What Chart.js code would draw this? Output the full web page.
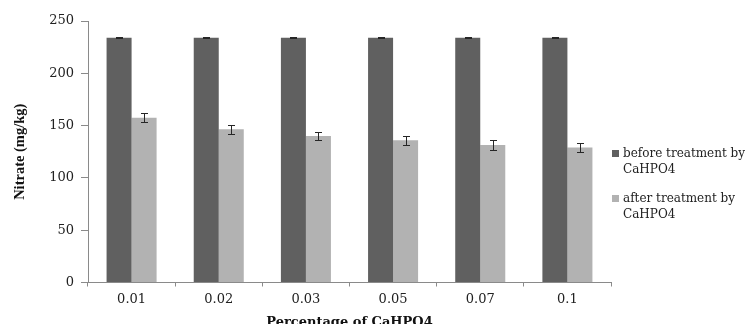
<!DOCTYPE html>
<html>
<head>
<meta charset="utf-8">
<script src="https://cdn.jsdelivr.net/npm/chart.js@4/dist/chart.umd.min.js"></script>
<style>
  html, body { margin: 0; padding: 0; background: #ffffff; }
  #wrap { width: 745px; height: 324px; position: relative; }
</style>
</head>
<body>
<div id="wrap"><canvas id="c" width="745" height="324"></canvas></div>
<script>
// ---- data ----
const categories = ['0.01', '0.02', '0.03', '0.05', '0.07', '0.1'];
const seriesNames = ['before treatment by CaHPO4', 'after treatment by CaHPO4'];
const legendLines = [['before treatment by', 'CaHPO4'], ['after treatment by', 'CaHPO4']];
const beforeValues = [234, 234, 234, 234, 234, 234];
const beforeErrors = [0.3, 0.3, 0.3, 0.3, 0.3, 0.3];
const afterValues = [157.5, 146.5, 140, 136, 131.5, 129];
const afterErrors = [4.1, 4.2, 4.2, 4.5, 4.5, 4.3];
const yTicks = [0, 50, 100, 150, 200, 250];
const xTitle = 'Percentage of CaHPO4';
const yTitle = 'Nitrate (mg/kg)';

const DARK = '#606060';
const LIGHT = '#b2b2b2';
const AXIS = '#8a8a8a';

const errorBarPlugin = {
  id: 'errorBars',
  afterDatasetsDraw(chart) {
    const ctx = chart.ctx;
    const yScale = chart.scales.y;
    ctx.save();
    ctx.strokeStyle = '#262626';
    ctx.lineWidth = 1;
    chart.data.datasets.forEach((ds, di) => {
      const meta = chart.getDatasetMeta(di);
      meta.data.forEach((bar, i) => {
        const v = ds.data[i];
        const e = ds.errors[i];
        const x = Math.round(bar.x) + 0.5;
        const yt = Math.round(yScale.getPixelForValue(v + e)) + 0.5;
        const yb = Math.round(yScale.getPixelForValue(v - e)) + 0.5;
        const cap = 3.5;
        ctx.beginPath();
        ctx.moveTo(x, yt); ctx.lineTo(x, yb);
        ctx.moveTo(x - cap, yt); ctx.lineTo(x + cap, yt);
        ctx.moveTo(x - cap, yb); ctx.lineTo(x + cap, yb);
        ctx.stroke();
      });
    });
    ctx.restore();
  }
};

const legendPlugin = {
  id: 'sideLegend',
  afterDraw(chart) {
    const ctx = chart.ctx;
    const area = chart.chartArea;
    const x0 = area.right + 1;
    const entryTops = [154, 199];
    ctx.save();
    ctx.font = '12px "DejaVu Serif"';
    ctx.textBaseline = 'middle';
    ctx.textAlign = 'left';
    chart.data.datasets.forEach((ds, di) => {
      const cy = entryTops[di];
      ctx.fillStyle = ds.backgroundColor;
      ctx.fillRect(x0, cy - 4, 7, 7);
      ctx.fillStyle = '#222';
      legendLines[di].forEach((line, li) => {
        ctx.fillText(line, x0 + 11, cy + li * 15.5);
      });
    });
    ctx.restore();
  }
};

new Chart(document.getElementById('c'), {
  type: 'bar',
  data: {
    labels: categories,
    datasets: [
      { label: seriesNames[0], data: beforeValues, errors: beforeErrors, backgroundColor: DARK,
        categoryPercentage: 0.574, barPercentage: 1.0 },
      { label: seriesNames[1], data: afterValues, errors: afterErrors, backgroundColor: LIGHT,
        categoryPercentage: 0.574, barPercentage: 1.0 }
    ]
  },
  options: {
    responsive: false,
    animation: false,
    devicePixelRatio: 1,
    layout: { padding: { top: 21, right: 134, left: 0, bottom: 0 } },
    plugins: {
      legend: { display: false },
      tooltip: { enabled: false },
      title: { display: false }
    },
    scales: {
      x: {
        grid: { display: true, drawOnChartArea: false, drawTicks: true, tickLength: 4, color: AXIS, offset: true },
        border: { display: true, color: AXIS, width: 1 },
        ticks: { color: '#222', font: { family: 'DejaVu Serif', size: 13 }, padding: 5, maxRotation: 0 },
        title: { display: true, text: xTitle, color: '#111',
                 font: { family: 'DejaVu Serif', size: 13, weight: 'bold' }, padding: { top: 0, bottom: -6 } },
        afterFit(scale) { scale.height = 41.5; }
      },
      y: {
        min: 0, max: 250,
        afterBuildTicks(scale) { scale.ticks = yTicks.map(v => ({ value: v })); },
        grid: { display: true, drawOnChartArea: false, drawTicks: true, tickLength: 7, color: AXIS },
        border: { display: true, color: AXIS, width: 1 },
        ticks: { color: '#222', font: { family: 'DejaVu Serif', size: 13 }, padding: 7 },
        title: { display: true, text: yTitle, color: '#111',
                 font: { family: 'Liberation Serif', size: 14.5, weight: 'bold' }, padding: { top: 12, bottom: 0 } },
        afterFit(scale) { scale.width = 88; }
      }
    }
  },
  plugins: [errorBarPlugin, legendPlugin]
});
</script>
</body>
</html>
